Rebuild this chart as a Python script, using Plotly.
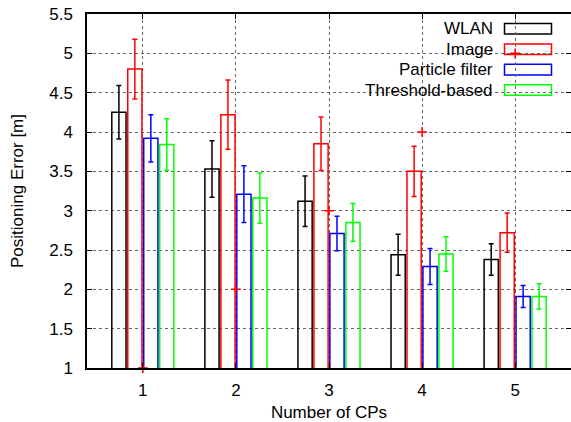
import plotly.graph_objects as go

# Positioning error per number of calibration points (CPs)
cps = [1, 2, 3, 4, 5]
wlan = [4.25, 3.53, 3.12, 2.44, 2.38]
wlan_err = [0.34, 0.36, 0.32, 0.26, 0.20]
image = [4.80, 4.22, 3.85, 3.50, 2.72]
image_err = [0.38, 0.44, 0.34, 0.32, 0.25]
particle = [3.92, 3.21, 2.71, 2.29, 1.91]
particle_err = [0.30, 0.36, 0.22, 0.23, 0.14]
threshold = [3.84, 3.16, 2.85, 2.45, 1.91]
threshold_err = [0.33, 0.32, 0.24, 0.22, 0.16]
# extra point markers belonging to the Image series
image_pts_x = [1, 2, 3, 4, 5]
image_pts_y = [1, 2, 3, 4, 5]

series = [
    ("WLAN", wlan, wlan_err, "#000000"),
    ("Image", image, image_err, "#ff0000"),
    ("Particle filter", particle, particle_err, "#0000ff"),
    ("Threshold-based", threshold, threshold_err, "#00ff00"),
]

W, H = 571, 422
ML, MR, MT, MB = 87, 0, 14, 54
FONT = "Liberation Sans, Arial, sans-serif"


def px_to_paper(xp, yp):
    pw = W - ML - MR
    ph = H - MT - MB
    return (xp - ML) / pw, (H - MB - yp) / ph


fig = go.Figure()
for name, vals, errs, col in series:
    fig.add_trace(go.Bar(
        x=cps, y=vals, name=name,
        marker=dict(color="rgba(0,0,0,0)", line=dict(color=col, width=1.5)),
        error_y=dict(type="data", array=errs, color=col, thickness=1.5, width=2.5),
        showlegend=False,
    ))

fig.add_trace(go.Scatter(
    x=image_pts_x, y=image_pts_y, mode="markers",
    marker=dict(symbol="cross-thin", size=7, line=dict(color="#ff0000", width=1.5)),
    cliponaxis=False, showlegend=False,
))

shapes = []
annotations = []
# white legend panel
x0, y0 = px_to_paper(342, 99)
x1, y1 = px_to_paper(557, 17)
shapes.append(dict(type="rect", xref="paper", yref="paper", x0=x0, y0=y0, x1=x1, y1=y1,
                   fillcolor="white", line=dict(width=0), layer="between"))
row_y = [28.7, 49.2, 69.6, 90.0]
for (name, _, _, col), yc in zip(series, row_y):
    sx0, sy0 = px_to_paper(504.5, yc + 5.3)
    sx1, sy1 = px_to_paper(551.5, yc - 5.3)
    shapes.append(dict(type="rect", xref="paper", yref="paper", x0=sx0, y0=sy0, x1=sx1, y1=sy1,
                       fillcolor="rgba(0,0,0,0)", line=dict(color=col, width=1.5), layer="between"))
    tx, ty = px_to_paper(494.5, yc)
    annotations.append(dict(xref="paper", yref="paper", x=tx, y=ty, text=name, showarrow=False,
                            xanchor="right", yanchor="middle",
                            font=dict(family=FONT, size=17, color="#000000")))

fig.update_layout(
    width=W, height=H,
    margin=dict(l=ML, r=MR, t=MT, b=MB, pad=0),
    paper_bgcolor="white", plot_bgcolor="white",
    barmode="group", bargap=0.314, bargroupgap=0.11,
    font=dict(family=FONT, size=17, color="#000000"),
    shapes=shapes, annotations=annotations,
    xaxis=dict(
        range=[0.4, 5.6], tickvals=cps, ticktext=[str(c) for c in cps],
        showline=True, linecolor="#000000", linewidth=1.5, mirror="ticks",
        ticks="inside", ticklen=5, tickcolor="#000000",
        showgrid=True, gridcolor="#666666", griddash="dot", gridwidth=1,
        zeroline=False, ticklabelstandoff=6,
        title=dict(text="Number of CPs", font=dict(size=17), standoff=9),
    ),
    yaxis=dict(
        range=[1, 5.5], dtick=0.5, tick0=1,
        showline=True, linecolor="#000000", linewidth=1.5, mirror=False,
        ticks="inside", ticklen=5, tickcolor="#000000",
        showgrid=True, gridcolor="#666666", griddash="dot", gridwidth=1,
        zeroline=False, ticklabelstandoff=9,
        title=dict(text="Positioning Error [m]", font=dict(size=17), standoff=21),
    ),
    yaxis2=dict(
        overlaying="y", side="right", matches="y", range=[1, 5.5], dtick=0.5, tick0=1,
        ticks="inside", ticklen=5, tickcolor="#000000", showticklabels=False,
        showgrid=False, showline=False, zeroline=False,
    ),
)
# invisible trace to place the right-hand tick marks
fig.add_trace(go.Scatter(x=[None], y=[None], yaxis="y2", showlegend=False, hoverinfo="skip"))

fig.write_html("out.html")
